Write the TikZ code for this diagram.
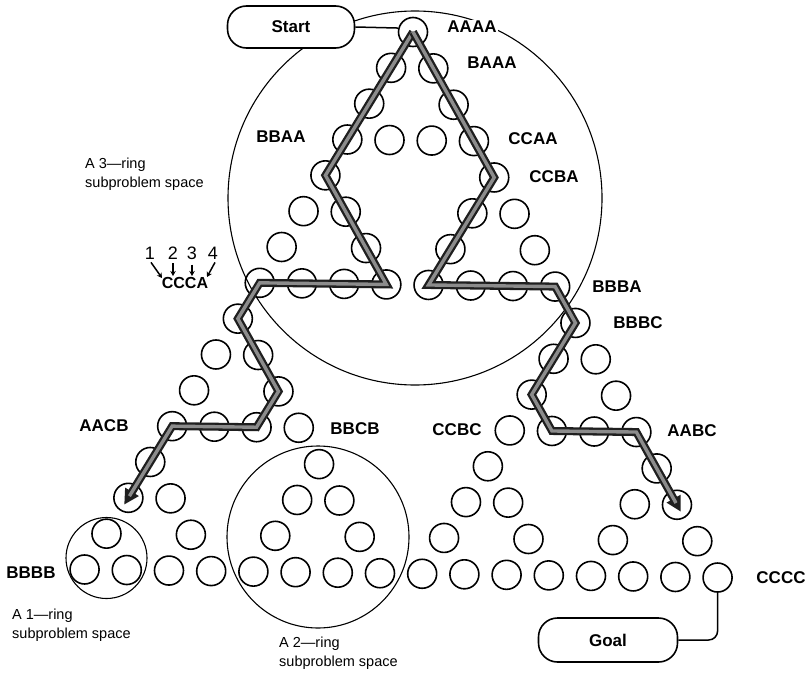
\documentclass[tikz,border=0pt]{standalone}
\usepackage{fontspec}
\setmainfont{Liberation Sans}
\usetikzlibrary{arrows.meta}
\begin{document}
\begin{tikzpicture}[x=1pt,y=-1pt,
  ring/.style={circle,draw,line width=1.6pt,minimum size=29pt,inner sep=0pt},
  lab/.style={font=\fontsize{17}{20}\selectfont\bfseries, inner sep=1.5pt, fill=white},
  note/.style={font=\fontsize{14.5}{19.5}\selectfont, align=left, anchor=west, inner sep=0pt},
  subspace/.style={line width=1.1pt},
  termbox/.style={draw, line width=1.6pt, rounded corners=19pt, fill=white, font=\fontsize{17}{20}\selectfont\bfseries},
  bandout/.style={line width=8pt, draw=black!88, line join=miter},
  bandin/.style={line width=3.4pt, draw=black!45, line join=miter},
  digit/.style={font=\fontsize{18}{20}\selectfont, inner sep=0pt},
  smallarrow/.style={-{Stealth[length=5pt,width=5.5pt]}, line width=1.5pt}
]
\useasboundingbox[fill=white] (0,0) rectangle (810,674);

% subproblem spaces
\draw[subspace] (415,198) circle[radius=187];
\draw[subspace] (318,537) circle[radius=91];
\draw[subspace] (106.5,558) circle[radius=40.5];

% state nodes (Sierpinski arrangement)
\foreach \k in {0,...,15}{
  \foreach \j in {0,...,\k}{
    \pgfmathtruncatemacro\bad{mod(\j,2)*mod(\k-\j,2)+mod(floor(\j/2),2)*mod(floor((\k-\j)/2),2)+mod(floor(\j/4),2)*mod(floor((\k-\j)/4),2)+mod(floor(\j/8),2)*mod(floor((\k-\j)/8),2)}
    \ifnum\bad=0
      \pgfmathsetmacro\xx{413+(\j-\k/2)*42.2-0.022*36.1*\k}
      \pgfmathsetmacro\yy{32+36.1*\k+0.0127*(\j-\k/2)*42.2}
      \node[ring] (n\k-\j) at (\xx,\yy) {};
    \fi
  }
}

% labels
\node[lab] (lAAAA) at (472,27) {AAAA};
\node[lab] (lBAAA) at (492,63) {BAAA};
\node[lab] (lBBAA) at (281,137) {BBAA};
\node[lab] (lCCAA) at (533,139) {CCAA};
\node[lab] (lCCBA) at (554,177) {CCBA};
\node[lab] (lBBBA) at (617,287) {BBBA};
\node[lab] (lBBBC) at (638,323) {BBBC};
\node[lab] (lAACB) at (104,426) {AACB};
\node[lab] (lBBCB) at (355,429) {BBCB};
\node[lab] (lCCBC) at (457,430) {CCBC};
\node[lab] (lAABC) at (692,431) {AABC};
\node[lab] (lBBBB) at (31,573) {BBBB};
\node[lab] (lCCCC) at (781,578) {CCCC};
\node[lab,font=\fontsize{16}{18}\selectfont\bfseries] (lCCCA) at (185,283) {CCCA};

\node[digit] (d1) at (150,253) {1};
\node[digit] (d2) at (173,253) {2};
\node[digit] (d3) at (192,253) {3};
\node[digit] (d4) at (213,253) {4};
\coordinate (e1) at (162,278);
\coordinate (e2) at (173,276);
\coordinate (e3) at (192,276);
\coordinate (e4) at (207,277);
\draw[smallarrow] (d1.south) ++(1,3) -- (e1);
\draw[smallarrow] (d2.south) ++(0,4) -- (e2);
\draw[smallarrow] (d3.south) ++(0,5) -- (e3);
\draw[smallarrow] (d4.south) ++(2,3) -- (e4);

\node[note] (t3) at (85,174) {A 3---ring\\subproblem space};
\node[note] (t1) at (12,625) {A 1---ring\\subproblem space};
\node[note] (t2) at (279,653) {A 2---ring\\subproblem space};

% start and goal
\node[termbox, minimum width=127pt, minimum height=42pt] (start) at (291,27) {Start};
\node[termbox, minimum width=139pt, minimum height=44pt] (goal) at (608,640) {Goal};
\draw[line width=1.5pt] (start.east) -- (n0-0.165);
\draw[line width=1.5pt, rounded corners=9pt] (goal.east) -| (n15-15.south);

% solution paths
\draw[bandout, -{Triangle[length=15pt,width=15pt]}, shorten >=-8pt]
  (n0-0.center) -- (n4-0.center) -- (n7-3.center) -- (n7-0.center) -- (n8-0.center)
  -- (n10-2.center) -- (n11-2.center) -- (n11-0.center) -- (n13-0.center);
\draw[bandin, shorten >=2pt]
  (n0-0.center) -- (n4-0.center) -- (n7-3.center) -- (n7-0.center) -- (n8-0.center)
  -- (n10-2.center) -- (n11-2.center) -- (n11-0.center) -- (n13-0.center);
\draw[bandout, -{Triangle[length=15pt,width=15pt]}, shorten >=-8pt]
  (n0-0.center) -- (n4-4.center) -- (n7-4.center) -- (n7-7.center) -- (n8-8.center)
  -- (n10-8.center) -- (n11-9.center) -- (n11-11.center) -- (n13-13.center);
\draw[bandin, shorten >=2pt]
  (n0-0.center) -- (n4-4.center) -- (n7-4.center) -- (n7-7.center) -- (n8-8.center)
  -- (n10-8.center) -- (n11-9.center) -- (n11-11.center) -- (n13-13.center);
\end{tikzpicture}
\end{document}
